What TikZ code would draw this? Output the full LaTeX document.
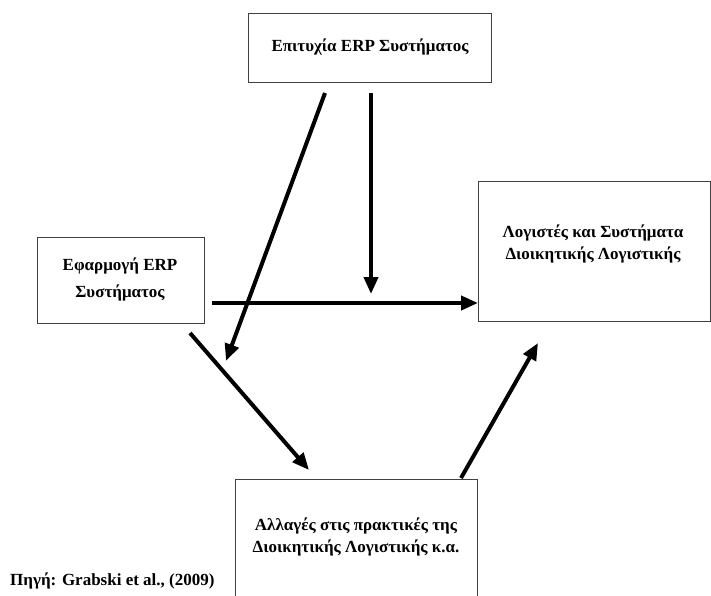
\documentclass[tikz,border=0pt]{standalone}
\usepackage{fontspec}
\setmainfont{Liberation Serif}
\usetikzlibrary{arrows.meta}
\tikzset{
  boxst/.style={draw=black!75, line width=1pt, rectangle, inner sep=0pt, anchor=north west},
  txt/.style={font=\bfseries\fontsize{17}{22}\selectfont, align=center, inner sep=0pt},
  arr/.style={line width=4pt, -{Triangle[length=17pt,width=14pt]}}
}
\begin{document}
\begin{tikzpicture}[x=1pt,y=-1pt]
\useasboundingbox (0,0) rectangle (711,596);
\clip (0,0) rectangle (711,596);
% boxes
\node[boxst, minimum width=243pt, minimum height=69pt] (top) at (248,13) {};
\node[boxst, minimum width=167pt, minimum height=86pt] (left) at (37,237) {};
\node[boxst, minimum width=232pt, minimum height=140pt] (right) at (478,181) {};
\node[boxst, minimum width=242pt, minimum height=140pt] (bottom) at (235,479) {};
% texts
\node[txt] (ttop) at (370,47) {Επιτυχία ERP Συστήματος};
\node[txt, font=\bfseries\fontsize{17}{27}\selectfont] (tleft) at (120,279) {Εφαρμογή ERP\\Συστήματος};
\node[txt] (tright) at (593,244) {Λογιστές και Συστήματα\\Διοικητικής Λογιστικής};
\node[txt] (tbottom) at (356,537) {Αλλαγές στις πρακτικές της\\Διοικητικής Λογιστικής κ.α.};
\node[txt, anchor=west] (cap) at (10,581) {Πηγή: Grabski et al., (2009)};
% arrow end points
\coordinate (a1s) at (325,93);
\coordinate (a1e) at (226,361);
\coordinate (a2s) at (371,93);
\coordinate (a2e) at (371,294);
\coordinate (a3s) at (212,303);
\coordinate (a3e) at (478,303);
\coordinate (a4s) at (190,333);
\coordinate (a4e) at (309,470);
\coordinate (a5s) at (461,478);
\coordinate (a5e) at (538,343);
\draw[arr] (a1s) -- (a1e);
\draw[arr] (a2s) -- (a2e);
\draw[arr] (a3s) -- (a3e);
\draw[arr] (a4s) -- (a4e);
\draw[arr] (a5s) -- (a5e);
\end{tikzpicture}
\end{document}
